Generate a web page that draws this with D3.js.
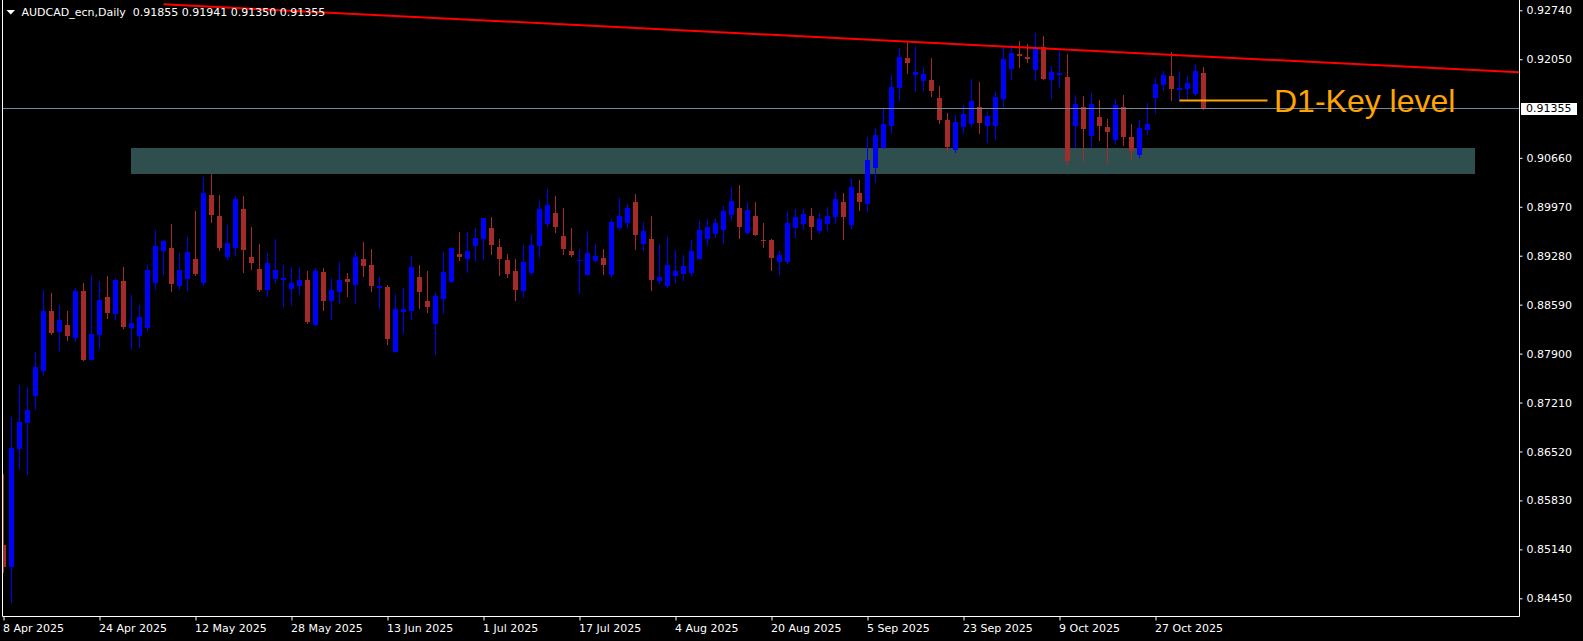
<!DOCTYPE html>
<html><head><meta charset="utf-8">
<script src="https://cdn.jsdelivr.net/npm/d3@7"></script>
<style>
html,body{margin:0;padding:0;background:#000;overflow:hidden}
svg{display:block}
text{font-family:"DejaVu Sans",sans-serif}
</style></head><body>
<svg id="c" width="1583" height="641"></svg>
<script>
const symbol = "AUDCAD_ecn";
const period = "Daily";
const opens = [0.85197,0.84887,0.86549,0.86915,0.87309,0.87661,0.88506,0.88210,0.88309,0.88126,
0.88788,0.87816,0.88168,0.88703,0.88464,0.88929,0.88267,0.88154,0.88267,0.88900,
0.89351,0.89393,0.88858,0.88957,0.89238,0.88900,0.90139,0.89844,0.89266,0.89393,
0.89942,0.89266,0.89097,0.88802,0.88957,0.88943,0.88816,0.88858,0.88943,0.88309,
0.89055,0.88647,0.88774,0.88957,0.88872,0.89238,0.89154,0.88830,0.88844,0.87929,
0.88492,0.88506,0.88985,0.88647,0.88323,0.88675,0.88914,0.89309,0.89238,0.89421,
0.89520,0.89675,0.89407,0.89224,0.89069,0.88788,0.89041,0.89421,0.89731,0.89886,
0.89562,0.89351,0.89210,0.89013,0.89210,0.89252,0.89013,0.89675,0.89745,0.90041,
0.89449,0.89520,0.88929,0.88858,0.88999,0.89027,0.89041,0.89238,0.89520,0.89590,
0.89647,0.89858,0.89956,0.89604,0.89844,0.89506,0.89506,0.89196,0.89196,0.89675,
0.89731,0.89844,0.89633,0.89731,0.89830,0.90041,0.89717,0.90168,0.90013,0.90520,
0.90801,0.91111,0.91646,0.92068,0.91829,0.91745,0.91759,0.91505,0.91195,0.90773,
0.91097,0.91139,0.91378,0.91111,0.91111,0.91491,0.91913,0.92125,0.92082,0.91899,
0.92223,0.91759,0.91829,0.91801,0.91111,0.91378,0.90970,0.91238,0.91097,0.90914,
0.91378,0.90956,0.90703,0.91055,0.91505,0.91688,0.91815,0.91618,0.91632,0.91561,
0.91855];
const highs = [0.86197,0.87013,0.87464,0.87436,0.87929,0.88802,0.88760,0.88591,0.88506,0.88830,
0.88900,0.89013,0.88929,0.88999,0.88971,0.89126,0.88731,0.88591,0.89154,0.89647,
0.89506,0.89731,0.89323,0.89548,0.89914,0.90393,0.90435,0.90139,0.89717,0.90125,
0.90125,0.89689,0.89449,0.89323,0.89520,0.89154,0.89126,0.89126,0.89069,0.89112,
0.89112,0.88971,0.89196,0.89041,0.89337,0.89478,0.89379,0.88985,0.88872,0.88745,
0.88830,0.89281,0.89154,0.89069,0.88760,0.89337,0.89407,0.89618,0.89618,0.89675,
0.89816,0.89830,0.89520,0.89309,0.89238,0.89435,0.89590,0.90055,0.90224,0.90125,
0.89956,0.89675,0.89379,0.89633,0.89449,0.89379,0.89801,0.90097,0.90013,0.90153,
0.89759,0.89844,0.89449,0.89548,0.89365,0.89295,0.89506,0.89773,0.89801,0.89816,
0.89985,0.90252,0.90280,0.90041,0.90041,0.89745,0.89520,0.89351,0.89914,0.89942,
0.89942,0.89956,0.89886,0.89970,0.90196,0.90168,0.90379,0.90351,0.90956,0.91083,
0.91350,0.91829,0.92209,0.92280,0.92237,0.91942,0.92068,0.91674,0.91294,0.91266,
0.91407,0.91773,0.91730,0.91322,0.91590,0.92209,0.92265,0.92308,0.92265,0.92420,
0.92378,0.91956,0.92167,0.92125,0.91547,0.91533,0.91576,0.91477,0.91209,0.91491,
0.91547,0.91139,0.91195,0.91435,0.91787,0.91885,0.92153,0.91885,0.91815,0.91984,
0.91941];
const lows = [0.84817,0.84395,0.86267,0.86197,0.87112,0.87605,0.88182,0.87957,0.88098,0.88084,
0.87816,0.87816,0.87985,0.88408,0.88393,0.88267,0.87971,0.87999,0.88239,0.88816,
0.89027,0.88788,0.88816,0.88802,0.89013,0.88872,0.89759,0.89365,0.89238,0.89295,
0.89055,0.89097,0.88788,0.88717,0.88914,0.88577,0.88591,0.88745,0.88337,0.88309,
0.88520,0.88393,0.88619,0.88717,0.88619,0.88999,0.88788,0.88548,0.88041,0.87929,
0.88196,0.88393,0.88548,0.88492,0.87901,0.88478,0.88914,0.89224,0.89055,0.89210,
0.89238,0.89309,0.89013,0.88985,0.88661,0.88703,0.89027,0.89266,0.89703,0.89618,
0.89309,0.89281,0.88760,0.89013,0.89210,0.89027,0.88999,0.89661,0.89689,0.89379,
0.89365,0.88802,0.88900,0.88844,0.88914,0.88943,0.89013,0.89238,0.89435,0.89548,
0.89464,0.89787,0.89534,0.89604,0.89576,0.89407,0.89083,0.89027,0.89182,0.89548,
0.89661,0.89520,0.89604,0.89647,0.89745,0.89520,0.89675,0.89928,0.89914,0.90322,
0.90801,0.91012,0.91477,0.91857,0.91604,0.91618,0.91533,0.91153,0.90759,0.90745,
0.91012,0.91111,0.91012,0.90886,0.90928,0.91393,0.91773,0.91942,0.92012,0.91759,
0.91773,0.91505,0.91660,0.90562,0.90815,0.90618,0.90815,0.90914,0.90590,0.90857,
0.90843,0.90646,0.90674,0.90998,0.91294,0.91618,0.91477,0.91463,0.91477,0.91547,
0.91350];
const closes = [0.84887,0.86563,0.86929,0.87098,0.87718,0.88506,0.88196,0.88379,0.88154,0.88788,
0.87816,0.88182,0.88661,0.88478,0.88943,0.88281,0.88337,0.88422,0.89083,0.89421,
0.89492,0.88886,0.89083,0.89337,0.89027,0.90168,0.89858,0.89393,0.89464,0.90083,
0.89365,0.89182,0.88802,0.89182,0.89083,0.88971,0.88900,0.88943,0.88351,0.89069,
0.88647,0.88802,0.88943,0.88914,0.89266,0.89140,0.88858,0.88858,0.88112,0.88534,
0.88534,0.89126,0.88774,0.88562,0.88717,0.89055,0.89393,0.89266,0.89351,0.89534,
0.89816,0.89435,0.89238,0.89027,0.88802,0.89196,0.89435,0.89942,0.89999,0.89689,
0.89379,0.89295,0.89224,0.89323,0.89281,0.89154,0.89759,0.89844,0.89956,0.89576,
0.89633,0.88943,0.88985,0.89154,0.89069,0.89140,0.89351,0.89647,0.89689,0.89745,
0.89914,0.90055,0.89689,0.89928,0.89576,0.89492,0.89252,0.89295,0.89745,0.89830,
0.89872,0.89689,0.89801,0.89844,0.90083,0.89830,0.90252,0.90041,0.90632,0.90984,
0.91139,0.91660,0.92082,0.91998,0.91871,0.91843,0.91604,0.91195,0.90815,0.91167,
0.91280,0.91463,0.91153,0.91252,0.91519,0.92054,0.92139,0.92096,0.92054,0.92195,
0.91773,0.91871,0.91857,0.90618,0.91421,0.91069,0.91421,0.91111,0.91026,0.91407,
0.90956,0.90759,0.91083,0.91139,0.91702,0.91829,0.91632,0.91646,0.91716,0.91885,
0.91355];
const firstDay = "2025-04-08";
const dateTickLabels = ["8 Apr 2025","24 Apr 2025","12 May 2025","28 May 2025","13 Jun 2025","1 Jul 2025",
"17 Jul 2025","4 Aug 2025","20 Aug 2025","5 Sep 2025","23 Sep 2025","9 Oct 2025","27 Oct 2025"];
const priceTickLabels = [0.92740,0.92050,0.90660,0.89970,0.89280,0.88590,0.87900,0.87210,0.86520,0.85830,0.85140,0.84450];
const bidPrice = 0.91355;
// annotations (bar index / price)
const zoneBars = [16, 184];
const zonePrices = [0.90805, 0.90435];
const trendBars = [20, 150];
const trendPrices = [0.92824, 0.92089];
const keyBars = [147, 158];
const keyPrice = 0.91467;
const keyLabel = "D1-Key level";

// categories: trading days
const months = ["Jan","Feb","Mar","Apr","May","Jun","Jul","Aug","Sep","Oct","Nov","Dec"];
const days = [];
{
  let d = new Date(firstDay + "T00:00:00Z");
  while (days.length < opens.length) {
    const wd = d.getUTCDay();
    if (wd !== 0 && wd !== 6) days.push(`${d.getUTCDate()} ${months[d.getUTCMonth()]} ${d.getUTCFullYear()}`);
    d = new Date(d.getTime() + 86400000);
  }
}
const bars = opens.map((o, i) => ({i, o, h: highs[i], l: lows[i], c: closes[i]}));

const W = 1583, H = 641;
const plotL = 2, plotR = 1519, plotB = 617;
const svg = d3.select("#c");
svg.append("rect").attr("width", W).attr("height", H).attr("fill", "#000");

const x = d3.scaleLinear().domain([0, bars.length - 1]).range([3.5, 3.5 + 8 * (bars.length - 1)]);
const y = d3.scaleLinear().domain([0.84450, 0.92740]).range([598.3, 10.3]);

svg.append("defs").append("clipPath").attr("id", "clip")
  .append("rect").attr("x", plotL + 1).attr("y", 0).attr("width", plotR - plotL - 1).attr("height", plotB);

const plot = svg.append("g").attr("clip-path", "url(#clip)");

// zone (background)
plot.append("rect")
  .attr("x", Math.floor(x(zoneBars[0]))).attr("y", Math.round(y(zonePrices[0])))
  .attr("width", Math.floor(x(zoneBars[1])) - Math.floor(x(zoneBars[0])))
  .attr("height", Math.round(y(zonePrices[1])) - Math.round(y(zonePrices[0])))
  .attr("fill", "#2F4F4F");

// candles
const cg = plot.append("g");
const col = d => d.c >= d.o ? "#0000FF" : "#A52A2A";
cg.selectAll("rect.wick").data(bars).join("rect").attr("class", "wick")
  .attr("x", d => Math.floor(x(d.i)))
  .attr("y", d => Math.round(y(d.h)))
  .attr("width", 1)
  .attr("height", d => Math.round(y(d.l)) - Math.round(y(d.h)) + 1)
  .attr("fill", col);
cg.selectAll("rect.body").data(bars).join("rect").attr("class", "body")
  .attr("x", d => Math.floor(x(d.i)) - 2)
  .attr("y", d => Math.round(y(Math.max(d.o, d.c))))
  .attr("width", 5)
  .attr("height", d => Math.max(1, Math.round(y(Math.min(d.o, d.c))) - Math.round(y(Math.max(d.o, d.c)))))
  .attr("fill", col);

// bid line
const yb = Math.floor(y(bidPrice)) + 0.5;
plot.append("line").attr("x1", plotL).attr("x2", plotR).attr("y1", yb).attr("y2", yb)
  .attr("stroke", "#778899").attr("stroke-width", 1);

// trend line (ray to the right)
const slope = (trendPrices[1] - trendPrices[0]) / (trendBars[1] - trendBars[0]);
const endBar = x.invert(plotR);
plot.append("line")
  .attr("x1", x(trendBars[0])).attr("y1", y(trendPrices[0]))
  .attr("x2", plotR).attr("y2", y(trendPrices[0] + slope * (endBar - trendBars[0])))
  .attr("stroke", "#FF0000").attr("stroke-width", 2);

// key level
const yk = y(keyPrice);
plot.append("line").attr("x1", x(keyBars[0])).attr("x2", x(keyBars[1])).attr("y1", yk).attr("y2", yk)
  .attr("stroke", "#FFA500").attr("stroke-width", 2);
plot.append("text").attr("x", x(keyBars[1]) + 6.5).attr("y", yk + 11.3)
  .attr("fill", "#FFA500").style("font-family", "'Liberation Sans', Arial, sans-serif")
  .style("font-size", "32px").text(keyLabel);

// border
svg.append("path").attr("d", `M${plotL + 0.5},0 V${plotB - 0.5} H${plotR + 0.5} V0`)
  .attr("fill", "none").attr("stroke", "#fff").attr("stroke-width", 1);

// price axis
const ya = svg.append("g").attr("transform", `translate(${plotR + 0.5},0)`)
  .call(d3.axisRight(y).tickValues(priceTickLabels).tickSize(3).tickPadding(4).tickFormat(d3.format(".5f")));
ya.select(".domain").remove();
ya.selectAll("line").attr("stroke", "#fff");
ya.selectAll("text").attr("fill", "#fff").style("font-size", "11px").style("font-family", "'DejaVu Sans', sans-serif");

// bid price label
svg.append("rect").attr("x", 1521).attr("y", Math.round(y(bidPrice)) - 6).attr("width", 56).attr("height", 12).attr("fill", "#fff");
svg.append("text").attr("x", 1526).attr("y", y(bidPrice)).attr("dy", "0.36em").attr("fill", "#000")
  .style("font-size", "11px").text(d3.format(".5f")(bidPrice));

// time axis
const tickIdx = dateTickLabels.map(s => days.indexOf(s));
const xa = svg.append("g").attr("transform", `translate(0,${plotB - 0.5})`)
  .call(d3.axisBottom(x).tickValues(tickIdx).tickSize(4).tickPadding(4).tickFormat(i => days[i]));
xa.select(".domain").remove();
xa.selectAll("line").attr("stroke", "#fff");
xa.selectAll("text").attr("fill", "#fff").attr("text-anchor", "start").attr("x", -1)
  .style("font-size", "11px").style("font-family", "'DejaVu Sans', sans-serif");

// header
svg.append("path").attr("d", "M6.5,10 L15,10 L10.75,14.5 Z").attr("fill", "#fff");
const last = bars[bars.length - 1];
const f5 = d3.format(".5f");
svg.append("text").attr("x", 21.5).attr("y", 16.3).attr("fill", "#fff")
  .style("font-size", "11px").style("white-space", "pre").attr("xml:space", "preserve")
  .text(`${symbol},${period}  ${f5(last.o)} ${f5(last.h)} ${f5(last.l)} ${f5(last.c)}`);
</script>
</body></html>
